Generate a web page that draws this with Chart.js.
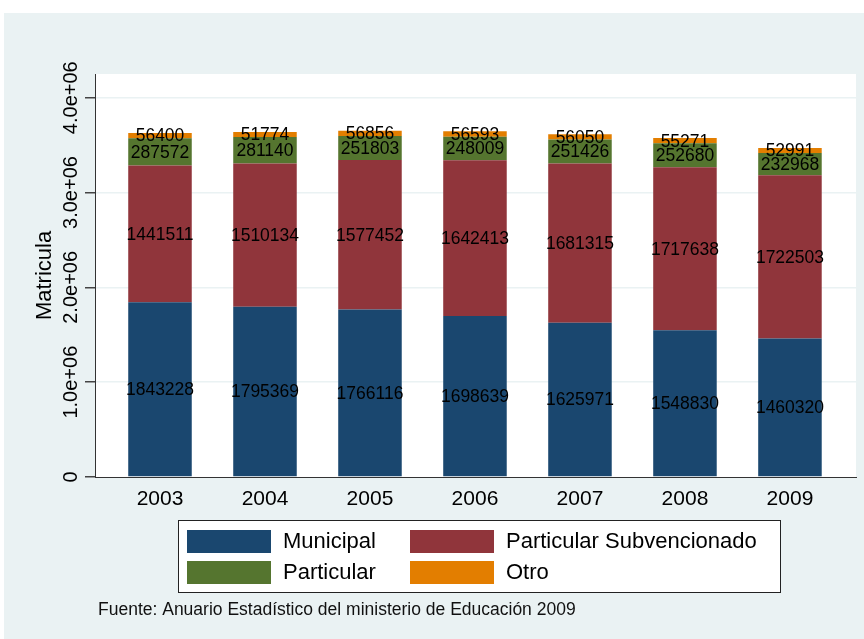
<!DOCTYPE html>
<html>
<head>
<meta charset="utf-8">
<script src="https://cdn.jsdelivr.net/npm/chart.js@4.4.0/dist/chart.umd.min.js"></script>
<style>
  html, body { margin: 0; padding: 0; background: #fff; }
  canvas { display: block; }
</style>
</head>
<body>
<canvas id="myChart" width="864" height="639"></canvas>
<script>
const years = [2003, 2004, 2005, 2006, 2007, 2008, 2009];
const municipal = [1843228, 1795369, 1766116, 1698639, 1625971, 1548830, 1460320];
const subvencionado = [1441511, 1510134, 1577452, 1642413, 1681315, 1717638, 1722503];
const particular = [287572, 281140, 251803, 248009, 251426, 252680, 232968];
const otro = [56400, 51774, 56856, 56593, 56050, 55271, 52991];
const yTicks = [0, 1000000, 2000000, 3000000, 4000000];
const yTickLabels = ["0", "1.0e+06", "2.0e+06", "3.0e+06", "4.0e+06"];
const seriesNames = ["Municipal", "Particular Subvencionado", "Particular", "Otro"];
const seriesColors = ["#1a476f", "#90353b", "#55752f", "#e37e00"];
const footnote = "Fuente: Anuario Estadístico del ministerio de Educación 2009";

const FONT = '"Liberation Sans", Arial, sans-serif';
const canvas = document.getElementById("myChart");
const ctx = canvas.getContext('2d');

function points(arr) {
  return arr.map((v, i) => ({x: years[i], y: v}));
}

const allSeries = [municipal, subvencionado, particular, otro];
const datasets = allSeries.map((arr, k) => ({
  label: seriesNames[k],
  data: points(arr),
  backgroundColor: seriesColors[k],
  borderWidth: 0,
  categoryPercentage: 1,
  barPercentage: 0.605
}));

// panel background + white plot region
const backdrop = {
  id: 'backdrop',
  beforeDraw(chart) {
    const c = chart.ctx, a = chart.chartArea;
    c.save();
    c.fillStyle = '#ffffff';
    c.fillRect(0, 0, chart.width, chart.height);
    c.fillStyle = '#eaf2f3';
    c.fillRect(4, 13, chart.width - 4, chart.height - 13);
    c.fillStyle = '#ffffff';
    c.fillRect(a.left, a.top, a.right - a.left, a.bottom - a.top);
    c.restore();
  }
};

// value labels centred in every segment
const segLabels = {
  id: 'segLabels',
  afterDatasetsDraw(chart) {
    const c = chart.ctx;
    c.save();
    c.font = '17.5px ' + FONT;
    c.fillStyle = '#000';
    c.textAlign = 'center';
    c.textBaseline = 'middle';
    chart.data.datasets.forEach((ds, di) => {
      chart.getDatasetMeta(di).data.forEach((bar, i) => {
        const p = bar.getCenterPoint();
        c.fillText(String(ds.data[i].y), p.x, p.y + 1);
      });
    });
    c.restore();
  }
};

// boxed 2x2 legend and the source note
const boxLegend = {
  id: 'boxLegend',
  afterDraw(chart) {
    const c = chart.ctx;
    c.save();
    c.fillStyle = '#fff';
    c.fillRect(178, 520, 602, 72);
    c.strokeStyle = '#222';
    c.lineWidth = 1;
    c.strokeRect(178.5, 520.5, 602, 72);
    c.font = '22px ' + FONT;
    c.textBaseline = 'middle';
    c.textAlign = 'left';
    const colX = [187, 410];
    const rowY = [530, 561];
    chart.data.datasets.forEach((ds, k) => {
      const x = colX[k % 2], y = rowY[Math.floor(k / 2)];
      c.fillStyle = ds.backgroundColor;
      c.fillRect(x, y, 84, 23);
      c.fillStyle = '#000';
      c.fillText(ds.label, x + 96, y + 12);
    });
    c.font = '17.5px ' + FONT;
    c.fillStyle = '#111';
    c.fillText(footnote, 98, 610);
    c.restore();
  }
};

const myChart = new Chart(ctx, {
  type: 'bar',
  data: { datasets: datasets },
  plugins: [backdrop, segLabels, boxLegend],
  options: {
    responsive: false,
    devicePixelRatio: 1,
    animation: false,
    layout: { padding: { left: 0, right: 8, top: 74, bottom: 0 } },
    plugins: { legend: { display: false }, tooltip: { enabled: false } },
    scales: {
      x: {
        type: 'linear',
        stacked: true,
        offset: false,
        min: 2002.381,
        max: 2009.629,
        afterBuildTicks: s => { s.ticks = years.map(v => ({value: v})); },
        afterFit: s => { s.height = 162; },
        ticks: {
          callback: v => String(v),
          font: { family: FONT, size: 21 },
          color: '#000',
          padding: 10,
          maxRotation: 0,
          autoSkip: false
        },
        grid: { display: false, drawTicks: false },
        border: { display: true, color: '#333', width: 1 }
      },
      y: {
        stacked: true,
        min: 0,
        max: 4250000,
        afterBuildTicks: s => { s.ticks = yTicks.map(v => ({value: v})); },
        afterFit: s => { s.width = 95; },
        ticks: {
          callback: v => yTickLabels[yTicks.indexOf(v)],
          font: { family: FONT, size: 20 },
          color: '#000',
          minRotation: 90,
          maxRotation: 90,
          crossAlign: 'center',
          padding: -23
        },
        grid: {
          color: c => (c.tick && c.tick.value === 0) ? 'rgba(0,0,0,0)' : '#eaf2f3',
          lineWidth: 1.5,
          tickLength: 10,
          tickColor: '#444',
          drawTicks: true
        },
        border: { display: true, color: '#333', width: 1 },
        title: {
          display: true,
          text: 'Matricula',
          font: { family: FONT, size: 22 },
          color: '#000',
          padding: { top: 32, bottom: 0 }
        }
      }
    }
  }
});
</script>
</body>
</html>
